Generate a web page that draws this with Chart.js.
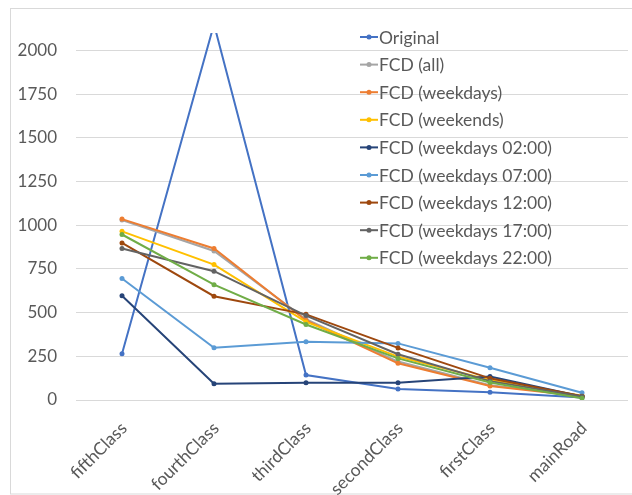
<!DOCTYPE html>
<html>
<head>
<meta charset="utf-8">
<script src="https://cdn.jsdelivr.net/npm/chart.js@4.4.1/dist/chart.umd.min.js"></script>
<style>
html, body { margin: 0; padding: 0; background: #fff; }
#wrap { width: 632px; height: 495px; position: relative; }
</style>
</head>
<body>
<div id="wrap"><canvas id="roadChart"></canvas></div>
<script>
'use strict';

var categories = ['fifthClass', 'fourthClass', 'thirdClass', 'secondClass', 'firstClass', 'mainRoad'];
var yTicks = [0, 250, 500, 750, 1000, 1250, 1500, 1750, 2000];

var seriesNames = ['Original', 'FCD (all)', 'FCD (weekdays)', 'FCD (weekends)',
    'FCD (weekdays 02:00)', 'FCD (weekdays 07:00)', 'FCD (weekdays 12:00)',
    'FCD (weekdays 17:00)', 'FCD (weekdays 22:00)'];

var original   = [265, 2150, 143, 63, 44, 15];
var fcdAll     = [1030, 853, 462, 220, 84, 25];
var weekdays   = [1035, 867, 455, 210, 80, 22];
var weekends   = [965, 775, 447, 248, 114, 25];
var weekdays02 = [596, 93, 99, 99, 135, 20];
var weekdays07 = [695, 299, 333, 324, 185, 42];
var weekdays12 = [899, 594, 490, 298, 124, 22];
var weekdays17 = [867, 737, 483, 262, 108, 20];
var weekdays22 = [947, 660, 432, 238, 100, 10];

var seriesColors = ['#4472C4', '#A5A5A5', '#ED7D31', '#FFC000', '#264478',
    '#5B9BD5', '#9E480E', '#636363', '#70AD47'];

var allSeries = [original, fcdAll, weekdays, weekends, weekdays02,
    weekdays07, weekdays12, weekdays17, weekdays22];

var FONT = 'Lato, "Open Sans", sans-serif';

function make_datasets() {
    var sets = [];
    for (var i = 0; i < allSeries.length; i++) {
        sets.push({
            label: seriesNames[i],
            data: allSeries[i],
            borderColor: seriesColors[i],
            backgroundColor: seriesColors[i],
            borderWidth: 2,
            pointRadius: 2.5,
            pointBorderWidth: 0,
            tension: 0
        });
    }
    // first series drawn on top
    sets.reverse();
    return sets;
}

var frame = {
    id: 'frame',
    beforeDraw: function (chart) {
        var ctx = chart.ctx;
        ctx.save();
        ctx.strokeStyle = '#d9d9d9';
        ctx.lineWidth = 1;
        ctx.strokeRect(10.5, 8.5, 700, 485.5);
        ctx.restore();
    }
};

var innerLegend = {
    id: 'innerLegend',
    afterDraw: function (chart) {
        var ctx = chart.ctx;
        ctx.save();
        ctx.font = '17.5px ' + FONT;
        ctx.textBaseline = 'middle';
        ctx.textAlign = 'left';
        for (var i = 0; i < seriesNames.length; i++) {
            var y = 37 + i * 27.6;
            ctx.strokeStyle = seriesColors[i];
            ctx.lineWidth = 2;
            ctx.beginPath();
            ctx.moveTo(360, y);
            ctx.lineTo(378, y);
            ctx.stroke();
            ctx.fillStyle = seriesColors[i];
            ctx.beginPath();
            ctx.arc(369, y, 2.5, 0, Math.PI * 2);
            ctx.fill();
            ctx.fillStyle = '#595959';
            ctx.fillText(seriesNames[i], 379, y + 1);
        }
        ctx.restore();
    }
};

var ctx = document.getElementById('roadChart');

var myLineChart = new Chart(ctx, {
    type: 'line',
    data: {
        labels: categories,
        datasets: make_datasets()
    },
    options: {
        responsive: true,
        maintainAspectRatio: false,
        animation: false,
        layout: { padding: { left: 0, right: 0, top: 33, bottom: 0 } },
        plugins: {
            legend: { display: false },
            tooltip: { enabled: false }
        },
        scales: {
            x: {
                offset: true,
                grid: { display: false },
                border: { display: false },
                ticks: {
                    color: '#595959',
                    font: { family: FONT, size: 17.5 },
                    maxRotation: 45,
                    minRotation: 45,
                    padding: 10,
                    labelOffset: 2
                },
                afterFit: function (scale) { scale.height = 95; }
            },
            y: {
                min: 0,
                max: 2100,
                grid: { color: '#d9d9d9', drawTicks: false },
                border: { display: false },
                ticks: {
                    color: '#595959',
                    font: { family: FONT, size: 17 },
                    padding: 19,
                    callback: function (v) { return String(v); }
                },
                afterBuildTicks: function (scale) {
                    scale.ticks = yTicks.map(function (v) { return { value: v }; });
                },
                afterFit: function (scale) { scale.width = 76; }
            }
        }
    },
    plugins: [frame, innerLegend]
});
</script>
</body>
</html>
